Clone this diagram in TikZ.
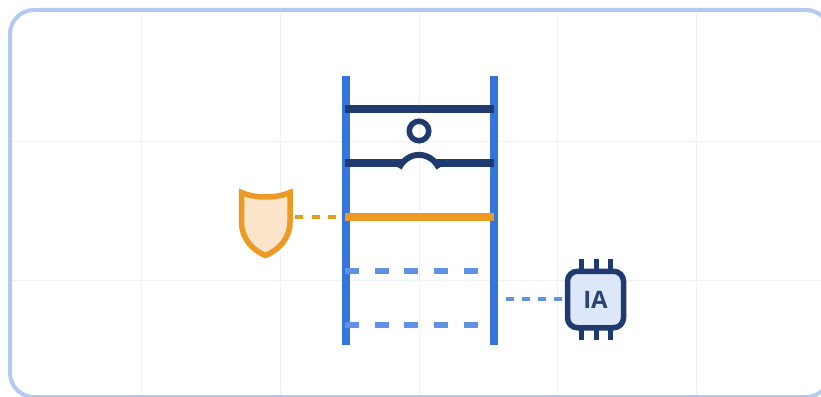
\documentclass[tikz,border=0pt]{standalone}
\usepackage{fontspec}
\setmainfont{Open Sans}
\definecolor{frame}{HTML}{B2CAF0}
\definecolor{gridc}{HTML}{EDF2FA}
\definecolor{rail}{HTML}{3574DC}
\definecolor{navy}{HTML}{1E3A6E}
\definecolor{amber}{HTML}{EC9A23}
\definecolor{amberfill}{HTML}{FDE5CC}
\definecolor{softblue}{HTML}{5F92E4}
\definecolor{chipfill}{HTML}{DCE7F9}
\definecolor{chiptext}{HTML}{2C4470}
\tikzset{
  gridline/.style={gridc,line width=1pt},
  railline/.style={rail,line width=8pt},
  navybar/.style={navy,line width=7.5pt},
  dashbar/.style={softblue,line width=6.5pt,dash pattern=on 14pt off 15.7pt},
  amberlink/.style={amber,line width=4pt,dash pattern=on 8pt off 8.5pt},
  bluelink/.style={softblue,line width=4pt,dash pattern=on 8pt off 8pt},
  pin/.style={navy,line width=5pt},
  chipbox/.style={draw=navy,fill=chipfill,line width=5.5pt,rounded corners=10pt,minimum width=56pt,minimum height=56.5pt,inner sep=0pt,text=chiptext,font=\bfseries\fontsize{24}{24}\selectfont},
  ringnode/.style={circle,draw=navy,line width=5.5pt,minimum size=19.5pt,inner sep=0pt}
}
\begin{document}
\begin{tikzpicture}[x=1pt,y=-1pt]
\useasboundingbox (0,0) rectangle (821,396);
\begin{scope}
\clip (0,0) rectangle (821,396);
\fill[white] (0,0) rectangle (821,396);
\foreach \gx in {141,280,419,557,696} \draw[gridline] (\gx,10) -- (\gx,396);
\foreach \gy in {141,280} \draw[gridline] (10,\gy) -- (821,\gy);
\draw[frame,line width=4pt,rounded corners=24pt] (10,10) rectangle (830,397);
\end{scope}
% coordinates
\coordinate (railLT) at (345.7,76);
\coordinate (railLB) at (345.7,345);
\coordinate (railRT) at (493.5,76);
\coordinate (railRB) at (493.5,345);
\coordinate (topL) at (345,109);
\coordinate (topR) at (493.5,109);
\coordinate (midL) at (345,163);
\coordinate (bumpL) at (402,163);
\coordinate (bumpR) at (436,163);
\coordinate (midR) at (493.5,163);
\coordinate (ambL) at (345,217);
\coordinate (ambR) at (493.5,217);
\coordinate (dashA1) at (345,271);
\coordinate (dashA2) at (478,271);
\coordinate (dashB1) at (345,325);
\coordinate (dashB2) at (478,325);
\coordinate (shieldPort) at (295,217);
\coordinate (shieldEnd) at (337,217);
\coordinate (chipStart) at (506,299);
% connectors
\draw[amberlink] (shieldPort) -- (shieldEnd);
\draw[bluelink] (chipStart) -- (564,299);
% rails
\draw[railline] (railLT) -- (railLB);
\draw[railline] (railRT) -- (railRB);
% ladder bars
\draw[dashbar] (dashA1) -- (dashA2);
\draw[dashbar] (dashB1) -- (dashB2);
\draw[navybar] (topL) -- (topR);
\draw[navybar] (midL) -- (bumpL);
\draw[navybar] (bumpR) -- (midR);
\draw[navy,line width=6pt] (399,168) .. controls (408,150.5) and (430,150.5) .. (439,168);
\draw[amber,line width=8.5pt] (ambL) -- (ambR);
\node[ringnode] (ring) at (419,131) {};
% shield
\draw[amber,fill=amberfill,line width=5.5pt,line join=miter,miter limit=10]
  (241.5,192.5) .. controls (255,198.5) and (276,198.5) .. (290,192.5)
  -- (290,222) .. controls (290,238) and (279,250) .. (265.5,255.5)
  .. controls (252,250) and (241.5,238) .. (241.5,222) -- cycle;
% chip pins
\foreach \px in {581.7,596,610.3} {
  \draw[pin] (\px,259) -- (\px,272);
  \draw[pin] (\px,327) -- (\px,340);
}
\node[chipbox] (chip) at (595.5,299.5) {IA};
\end{tikzpicture}
\end{document}
